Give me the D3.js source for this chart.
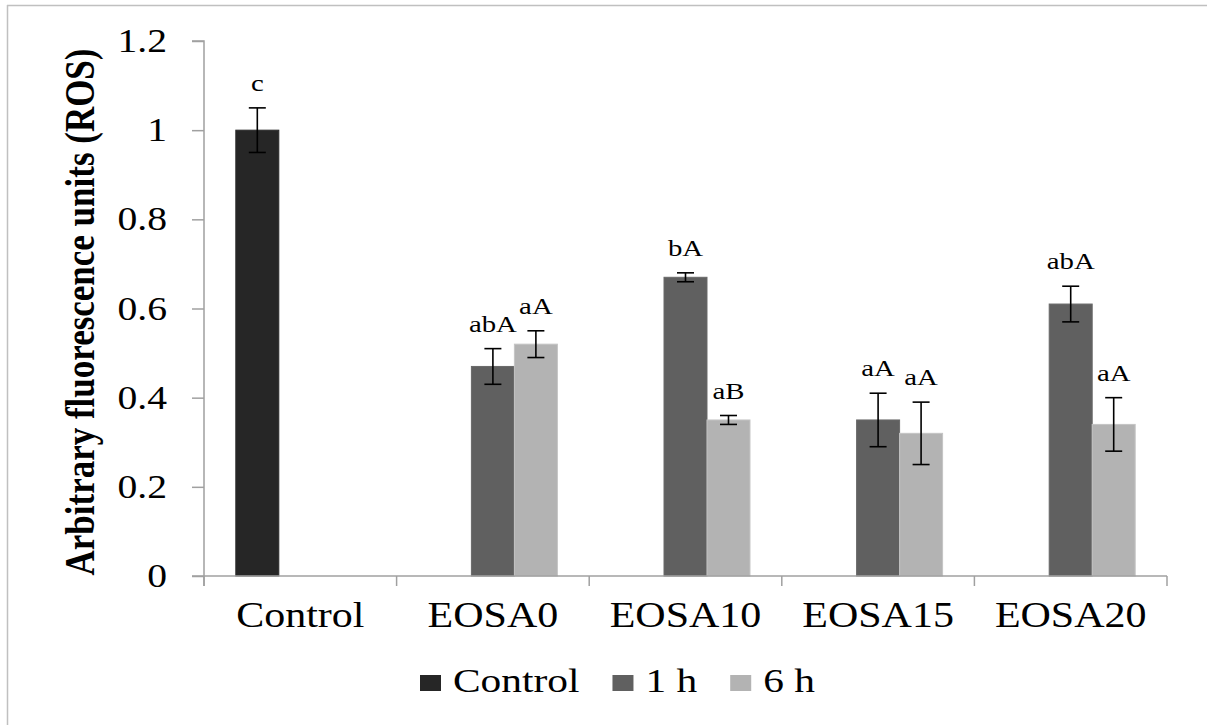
<!DOCTYPE html>
<html>
<head>
<meta charset="utf-8">
<script src="https://cdn.jsdelivr.net/npm/d3@7"></script>
<style>
  html, body { margin: 0; padding: 0; background: #fff; }
  svg { display: block; }
  text { font-family: "Liberation Serif", "Times New Roman", "DejaVu Serif", serif; fill: #000; }
</style>
</head>
<body>
<svg id="chart" width="1207" height="725"></svg>
<script>
// ---- data ----
const categories = ["Control", "EOSA0", "EOSA10", "EOSA15", "EOSA20"];
const seriesNames = ["Control", "1 h", "6 h"];
const controlValues = [1.00, null, null, null, null];
const h1Values = [null, 0.47, 0.67, 0.35, 0.61];
const h6Values = [null, 0.52, 0.35, 0.32, 0.34];
const controlErrors = [0.05, null, null, null, null];
const h1Errors = [null, 0.04, 0.01, 0.06, 0.04];
const h6Errors = [null, 0.03, 0.01, 0.07, 0.06];
const controlLetters = ["c", null, null, null, null];
const h1Letters = [null, "abA", "bA", "aA", "abA"];
const h6Letters = [null, "aA", "aB", "aA", "aA"];
const yTicks = [0, 0.2, 0.4, 0.6, 0.8, 1, 1.2];
const yTickLabels = ["0", "0.2", "0.4", "0.6", "0.8", "1", "1.2"];
const colors = ["#262626", "#606060", "#b3b3b3"];

const seriesValues = [controlValues, h1Values, h6Values];
const seriesErrors = [controlErrors, h1Errors, h6Errors];
const seriesLetters = [controlLetters, h1Letters, h6Letters];

const records = [];
categories.forEach((c, i) => {
  seriesNames.forEach((s, j) => {
    const v = seriesValues[j][i];
    if (v != null) records.push({cat: c, ser: s, si: j, value: v, err: seriesErrors[j][i], letter: seriesLetters[j][i]});
  });
});

// ---- layout ----
const SX = 1.2; // horizontal stretch of text in the reference
const svg = d3.select("#chart");
const plotLeft = 204, plotRight = 1167, plotTop = 41, plotBottom = 576;

const x0 = d3.scaleBand().domain(categories).range([plotLeft, plotRight]).paddingInner(0).paddingOuter(0);
const x1 = d3.scaleBand().domain(seriesNames).range([0, x0.bandwidth()]).paddingInner(0).paddingOuter(0.74);
const y = d3.scaleLinear().domain([0, 1.2]).range([plotBottom, plotTop]);
const color = d3.scaleOrdinal().domain(seriesNames).range(colors);

// outer border
svg.append("line").attr("x1", 7).attr("x2", 1207).attr("y1", 5.5).attr("y2", 5.5).attr("stroke", "#c0c0c0").attr("stroke-width", 1.5);
svg.append("line").attr("x1", 7.5).attr("x2", 7.5).attr("y1", 5).attr("y2", 725).attr("stroke", "#c0c0c0").attr("stroke-width", 1.5);

function stretchedText(g, x, yy, str, size, anchor, weight) {
  return g.append("text")
    .attr("transform", `translate(${x},${yy}) scale(${SX},1)`)
    .attr("text-anchor", anchor || "middle")
    .attr("font-size", size)
    .attr("font-weight", weight || "normal")
    .text(str);
}

// bars
const bars = svg.append("g");
bars.selectAll("rect").data(records).join("rect")
  .attr("x", d => x0(d.cat) + x1(d.ser))
  .attr("width", x1.bandwidth())
  .attr("y", d => y(d.value))
  .attr("height", d => y(0) - y(d.value))
  .attr("fill", d => color(d.ser))
  .attr("stroke", d => d3.color(color(d.ser)).brighter(0.25))
  .attr("stroke-width", 1);

// axes
const axisColor = "#a0a0a0";
const yAxis = svg.append("g").attr("transform", `translate(${plotLeft},0)`)
  .call(d3.axisLeft(y).tickValues(yTicks).tickSize(12).tickFormat(""));
yAxis.select(".domain").attr("stroke", axisColor).attr("stroke-width", 1.5).attr("d", `M-12,${plotTop}H0V${plotBottom + 10}`);
yAxis.selectAll(".tick line").attr("stroke", axisColor).attr("stroke-width", 1.5);

const xTickPos = categories.map(c => x0(c)).concat([plotRight]);
const xAxisG = svg.append("g");
xAxisG.append("line").attr("x1", plotLeft - 12).attr("x2", plotRight).attr("y1", plotBottom).attr("y2", plotBottom)
  .attr("stroke", axisColor).attr("stroke-width", 1.5);
xAxisG.selectAll("line.t").data(xTickPos).join("line").attr("class", "t")
  .attr("x1", d => d).attr("x2", d => d).attr("y1", plotBottom).attr("y2", plotBottom + 10)
  .attr("stroke", axisColor).attr("stroke-width", 1.5);

// y tick labels
const yl = svg.append("g");
yTicks.forEach((t, i) => {
  stretchedText(yl, 167, y(t) + 11, yTickLabels[i], 33, "end");
});

// x labels
const xl = svg.append("g");
categories.forEach(c => {
  stretchedText(xl, x0(c) + x0.bandwidth() / 2, 627, c, 35, "middle");
});

// y title
svg.append("text")
  .attr("transform", `translate(80,312) rotate(-90) scale(1,${SX})`)
  .attr("text-anchor", "middle")
  .attr("dominant-baseline", "central")
  .attr("font-size", 35)
  .attr("font-weight", "bold")
  .text("Arbitrary fluorescence units (ROS)");

// error bars
const eb = svg.append("g").attr("stroke", "#000").attr("stroke-width", 1.6);
records.forEach(d => {
  const cx = x0(d.cat) + x1(d.ser) + x1.bandwidth() / 2;
  const yt = y(d.value + d.err), yb = y(d.value - d.err);
  eb.append("line").attr("x1", cx).attr("x2", cx).attr("y1", yt).attr("y2", yb);
  eb.append("line").attr("x1", cx - 8.5).attr("x2", cx + 8.5).attr("y1", yt).attr("y2", yt);
  eb.append("line").attr("x1", cx - 8.5).attr("x2", cx + 8.5).attr("y1", yb).attr("y2", yb);
});

// letters
const lg = svg.append("g");
records.forEach(d => {
  const cx = x0(d.cat) + x1(d.ser) + x1.bandwidth() / 2;
  stretchedText(lg, cx, y(d.value + d.err) - 17, d.letter, 24, "middle");
});

// legend
const leg = svg.append("g");
let lx = 420;
seriesNames.forEach((s, i) => {
  leg.append("rect").attr("x", lx).attr("y", 675).attr("width", 21).attr("height", 16).attr("fill", colors[i]);
  const t = stretchedText(leg, lx + 33, 692, s, 34.5, "start");
  const w = t.node().getComputedTextLength() * SX;
  lx = lx + 33 + w + 33;
});
</script>
</body>
</html>
